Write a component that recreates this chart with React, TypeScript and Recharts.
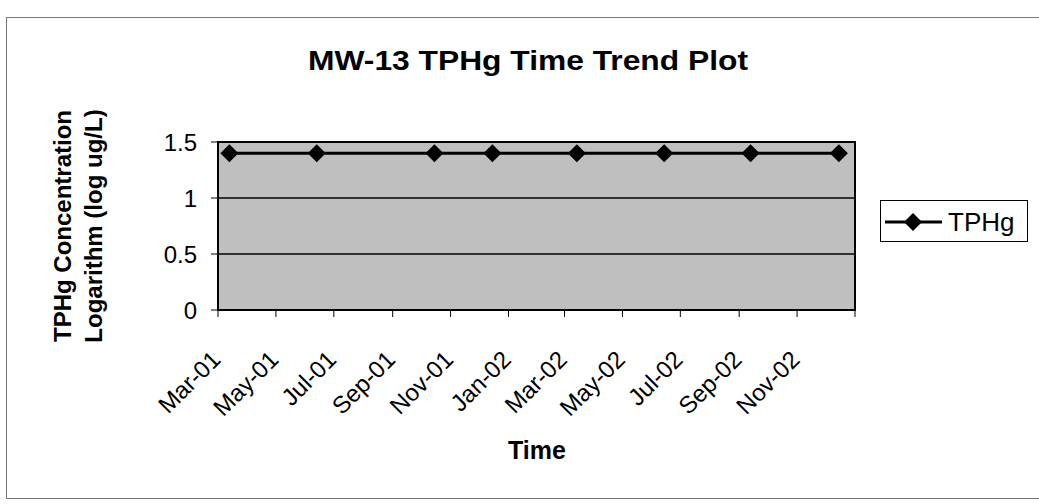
import React from 'react';
import { LineChart, Line, XAxis, YAxis, CartesianGrid, ReferenceArea, Legend } from 'recharts';

const FONT = '"Liberation Sans", Arial, Helvetica, sans-serif';

// sampling dates
const sampleDates = ['2001-03-13', '2001-06-13', '2001-10-15', '2001-12-15', '2002-03-14', '2002-06-14', '2002-09-13', '2002-12-15'];
// TPHg concentration, log ug/L
const tphgLog = [1.4, 1.4, 1.4, 1.4, 1.4, 1.4, 1.4, 1.4];

// x axis: every two months, last tick has no label
const tickDates = ['2001-03-01', '2001-05-01', '2001-07-01', '2001-09-01', '2001-11-01', '2002-01-01', '2002-03-01', '2002-05-01', '2002-07-01', '2002-09-01', '2002-11-01', '2003-01-01'];
const tickLabels = ['Mar-01', 'May-01', 'Jul-01', 'Sep-01', 'Nov-01', 'Jan-02', 'Mar-02', 'May-02', 'Jul-02', 'Sep-02', 'Nov-02', ''];

const yTicks = [0, 0.5, 1, 1.5];

const toTime = (d: string) => new Date(d + 'T00:00:00Z').getTime();

const xTicks = tickDates.map(toTime);
const xMin = xTicks[0];
const xMax = xTicks[xTicks.length - 1];

const data = sampleDates.map((d, i) => ({ t: toTime(d), tphg: tphgLog[i] }));

const XTick = ({ x, y, payload }: any) => {
  const label = tickLabels[xTicks.indexOf(payload.value)];
  if (!label) return null;
  const ax = x + 4;
  const ay = y + 42;
  return (
    <text x={ax} y={ay} transform={`rotate(-45, ${ax}, ${ay})`} textAnchor="end" fontSize={24} fontFamily={FONT} fill="#000">
      {label}
    </text>
  );
};

const Diamond = ({ cx, cy }: any) => {
  if (cx == null || cy == null) return null;
  return <polygon points={`${cx},${cy - 9} ${cx + 9},${cy} ${cx},${cy + 9} ${cx - 9},${cy}`} fill="#000" />;
};

const YTitle = () => (
  <g fontFamily={FONT} fontWeight="bold" fontSize={24} fill="#000">
    <text x={71} y={226} transform="rotate(-90, 71, 226)" textAnchor="middle">TPHg Concentration</text>
    <text x={102} y={226} transform="rotate(-90, 102, 226)" textAnchor="middle">Logarithm (log ug/L)</text>
  </g>
);

const XTitle = () => (
  <text x={537} y={459} textAnchor="middle" fontFamily={FONT} fontWeight="bold" fontSize={25} fill="#000">
    Time
  </text>
);

const LegendBox = () => (
  <svg width={148} height={42} style={{ display: 'block' }}>
    <rect x={0.5} y={0.5} width={147} height={41} fill="#fff" stroke="#000" />
    <line x1={5} y1={22} x2={62} y2={22} stroke="#000" strokeWidth={3} />
    <polygon points="33,13 42,22 33,31 24,22" fill="#000" />
    <text x={68} y={31} fontSize={26} fontFamily={FONT} fill="#000">TPHg</text>
  </svg>
);

export default function App() {
  return (
    <div style={{ position: 'absolute', left: 0, top: 0, width: 1039, height: 504, background: '#fff', fontFamily: FONT }}>
      {/* outer chart frame (scan shows it only faintly) */}
      <div style={{ position: 'absolute', left: 6, top: 17, width: 1040, height: 480, borderTop: '1px solid #777', borderLeft: '1px solid #777', borderBottom: '1px solid #777' }} />
      <svg width={1039} height={100} style={{ position: 'absolute', left: 0, top: 0 }}>
        <text x={308} y={70} fontFamily={FONT} fontWeight="bold" fontSize={27} textLength={440} lengthAdjust="spacingAndGlyphs" fill="#000">
          MW-13 TPHg Time Trend Plot
        </text>
      </svg>
      <LineChart width={1039} height={504} data={data} margin={{ top: 142, right: 184, bottom: 74, left: 118 }} style={{ position: 'absolute', left: 0, top: 0 }}>
        <CartesianGrid vertical={false} stroke="#000" strokeWidth={1.5} fill="#bfbfbf" fillOpacity={1} />
        <XAxis
          type="number"
          dataKey="t"
          domain={[xMin, xMax]}
          ticks={xTicks}
          interval={0}
          height={120}
          tick={<XTick />}
          tickSize={7}
          axisLine={{ stroke: '#000', strokeWidth: 2 }}
          tickLine={{ stroke: '#000' }}
          label={<XTitle />}
        />
        <YAxis
          domain={[0, 1.5]}
          ticks={yTicks}
          interval={0}
          width={100}
          tickSize={7}
          tickMargin={14}
          tick={{ fontSize: 24, fill: '#000', fontFamily: FONT }}
          axisLine={{ stroke: '#000', strokeWidth: 2 }}
          tickLine={{ stroke: '#000' }}
          label={<YTitle />}
        />
        <ReferenceArea x1={xMin} x2={xMax} y1={0} y2={1.5} fill="none" stroke="#000" strokeWidth={2} />
        <Legend verticalAlign="middle" align="center" layout="horizontal" wrapperStyle={{ left: 880, top: 200, width: 148, height: 42 }} content={<LegendBox />} />
        <Line
          type="linear"
          dataKey="tphg"
          name="TPHg"
          stroke="#000"
          strokeWidth={3}
          dot={<Diamond />}
          activeDot={false}
          isAnimationActive={false}
        />
      </LineChart>
    </div>
  );
}
